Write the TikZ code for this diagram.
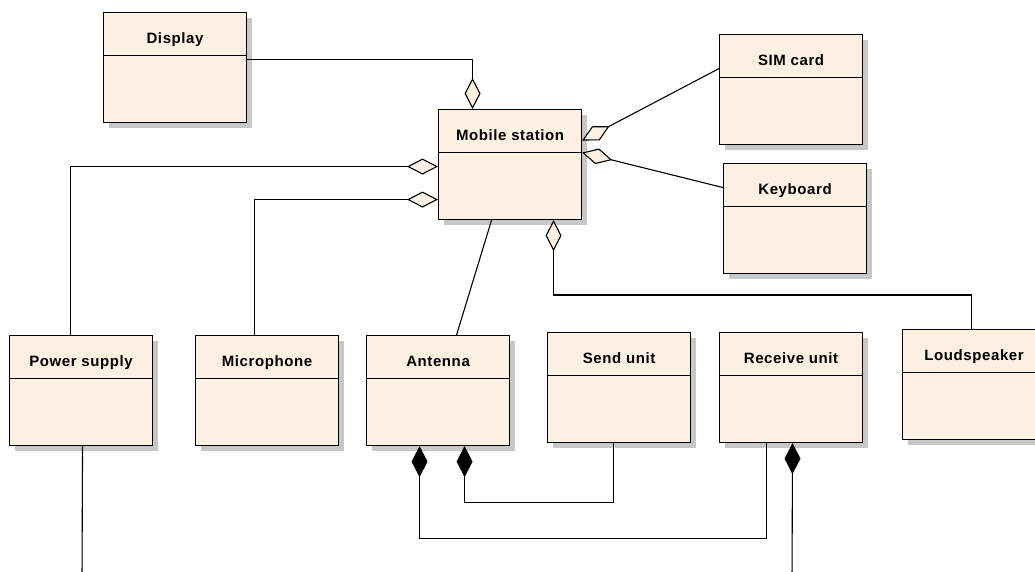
\documentclass[tikz,border=0pt]{standalone}
\usepackage{fontspec}
\setmainfont{Liberation Sans}[LetterSpace=4]
\usetikzlibrary{arrows.meta}
\usetikzlibrary{shadows}
\definecolor{classfill}{RGB}{251,240,226}
\tikzset{umlclass/.style={draw,fill=classfill,line width=1.1pt,
           minimum width=143pt,minimum height=110pt,inner sep=0pt,anchor=north west,
           drop shadow={shadow xshift=5pt,shadow yshift=-5pt,fill=black!22,opacity=1},
           path picture={\draw[line width=1.1pt]
             ([yshift=-43pt]path picture bounding box.north west) --
             ([yshift=-43pt]path picture bounding box.north east);}},
         title/.style={font=\fontsize{15}{17}\selectfont\bfseries,anchor=base,yshift=-31pt},
         assoc/.style={line width=1.1pt},
         aggr/.style={assoc,-{Diamond[open,fill=classfill,length=31pt,width=16pt]}},
         comp/.style={assoc,-{Diamond[length=31pt,width=16pt]}},
         }

\begin{document}
\begin{tikzpicture}[x=1pt,y=-1pt]
		\useasboundingbox (0,0) rectangle (1035,571);
		\clip (0,0) rectangle (1035,571);
		% classes
		\node[umlclass,label={[title]north:Display}] (disp) at (103,12) {};
		\node[umlclass,label={[title]north:Mobile station}] (ms) at (438,109) {};
		\node[umlclass,label={[title]north:SIM card}] (sim) at (719,34) {};
		\node[umlclass,label={[title]north:Keyboard}] (kb) at (723,163) {};
		\node[umlclass,label={[title]north:Power supply}] (ps) at (9,335) {};
		\node[umlclass,label={[title]north:Microphone}] (mic) at (195,335) {};
		\node[umlclass,label={[title]north:Antenna}] (ant) at (366,335) {};
		\node[umlclass,label={[title]north:Send unit}] (send) at (547,332) {};
		\node[umlclass,label={[title]north:Receive unit}] (rcv) at (719,332) {};
		\node[umlclass,label={[title]north:Loudspeaker}] (ls) at (902,329) {};
		\coordinate (ps-end) at (82,580);
		\coordinate (rcv-end) at (792,580);
		% aggregations
		\draw[aggr] ([yshift=8pt]disp.east) -| ([xshift=-37.5pt]ms.north);
		\draw[aggr] ([xshift=-10.5pt]ps.north) |- ([yshift=-2pt]ms.west);
		\draw[aggr] ([xshift=-12.5pt]mic.north) |- ([yshift=-35pt]ms.west);
		\draw[aggr] ([yshift=21pt]sim.west) -- ([yshift=24pt]ms.east);
		\draw[aggr] ([yshift=31pt]kb.west) -- ([yshift=12pt]ms.east);
		\draw[aggr] ([xshift=-2.5pt]ls.north) -- ++(0,-34) -| ([xshift=43.5pt]ms.south);
		\draw[assoc] ([xshift=18.5pt]ant.north) -- ([xshift=-18.5pt]ms.south);
		% compositions
		\draw[comp] ([xshift=-24.5pt]rcv.south) -- ++(0,95) -| ([xshift=-18.5pt]ant.south);
		\draw[comp] ([xshift=-6pt]send.south) -- ++(0,59) -| ([xshift=26.5pt]ant.south);
		\draw[comp] (rcv-end) -- ([xshift=1.5pt]rcv.south);
		\draw[assoc] ([xshift=1.5pt]ps.south) -- (ps-end);
\end{tikzpicture}
\end{document}
